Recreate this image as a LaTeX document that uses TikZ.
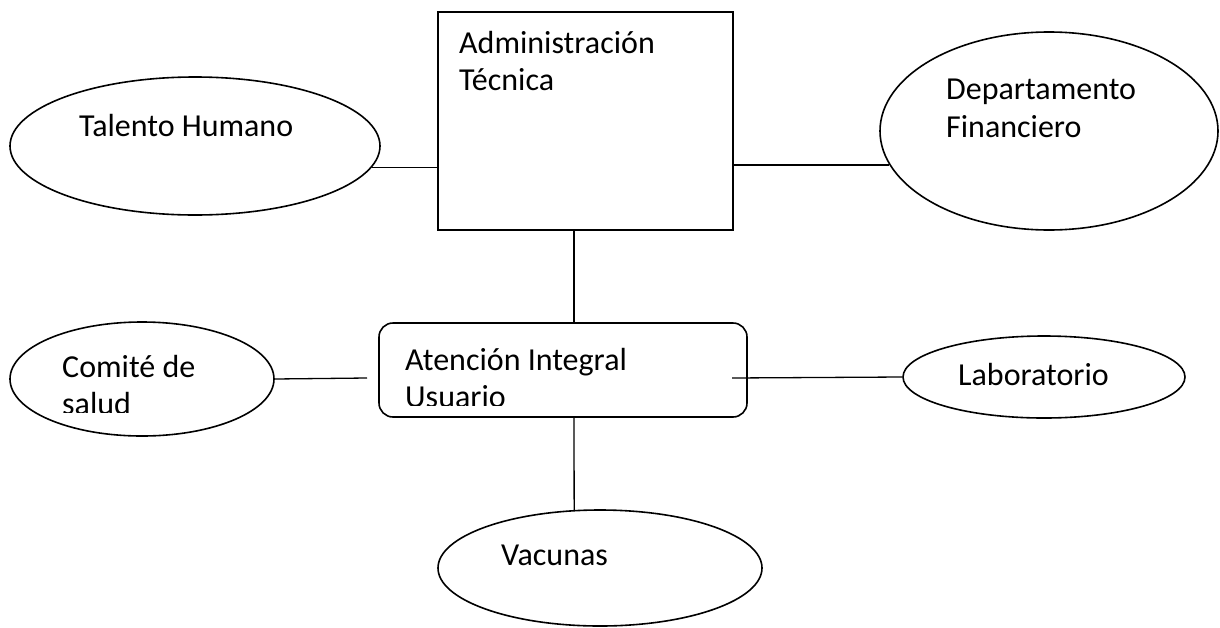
\documentclass[tikz,border=0pt]{standalone}
\usepackage{fontspec}
\setmainfont{Carlito}
\usetikzlibrary{shapes.geometric}
\tikzset{
  shape line/.style={draw=black, line width=1.6pt},
  oval/.style={shape line, ellipse, inner sep=0pt},
  link/.style={draw=black, line width=1.3pt},
  label text/.style={anchor=base west, inner sep=0pt, align=left,
    font=\fontsize{32pt}{37.5pt}\selectfont},
}
\begin{document}
\begin{tikzpicture}[x=1pt, y=-1pt]
  \useasboundingbox (0,0) rectangle (1220,627);
  \fill[white] (0,0) rectangle (1220,627);

  % central units
  \node[shape line, rectangle, inner sep=0pt, minimum width=295pt, minimum height=218pt]
    (admin) at (585.5,121) {};
  \node[shape line, rectangle, rounded corners=14pt, inner sep=0pt,
    minimum width=368pt, minimum height=94pt] (atencion) at (563,370) {};

  % surrounding units
  \node[oval, minimum width=370pt, minimum height=138pt] (talento) at (195,146) {};
  \node[oval, minimum width=338pt, minimum height=198pt] (depto) at (1049,131) {};
  \node[oval, minimum width=264pt, minimum height=114pt] (comite) at (142,379) {};
  \node[oval, minimum width=282pt, minimum height=82pt] (lab) at (1044,377) {};
  \node[oval, minimum width=324pt, minimum height=116pt] (vacunas) at (600,568) {};

  % labels (base anchor sits on the last line of a two-line label)
  \node[label text] (tadmin) at (459,90.5) {Administración\\Técnica};
  \node[label text] (ttalento) at (79,136) {Talento Humano};
  \node[label text] (tdepto) at (946,137) {Departamento\\Financiero};
  \node[label text] (tlab) at (958,385) {Laboratorio};
  \node[label text] (tvac) at (501,565) {Vacunas};
  \begin{scope}
    \clip (379,323) rectangle (747,405);
    \node[label text] (tatencion) at (405,407.5) {Atención Integral\\Usuario};
  \end{scope}
  \begin{scope}
    \clip (0,300) rectangle (300,412);
    \node[label text] (tcomite) at (62,414.5) {Comité de\\salud};
  \end{scope}

  % connectors
  \coordinate (axis) at (574,0);
  \coordinate (comiteend) at (367,378);
  \coordinate (labstart) at (732,378);
  \draw[link] (talento.-7.2) -- (talento.-7.2 -| admin.west);
  \draw[link] (admin.east |- depto.192.9) -- (depto.192.9);
  \draw[link] (admin.south -| axis) -- (atencion.north -| axis);
  \draw[link] (atencion.south -| axis) -- (vacunas.114.4);
  \draw[link] (comite.east) -- (comiteend);
  \draw[link] (labstart) -- (lab.west);
\end{tikzpicture}
\end{document}
